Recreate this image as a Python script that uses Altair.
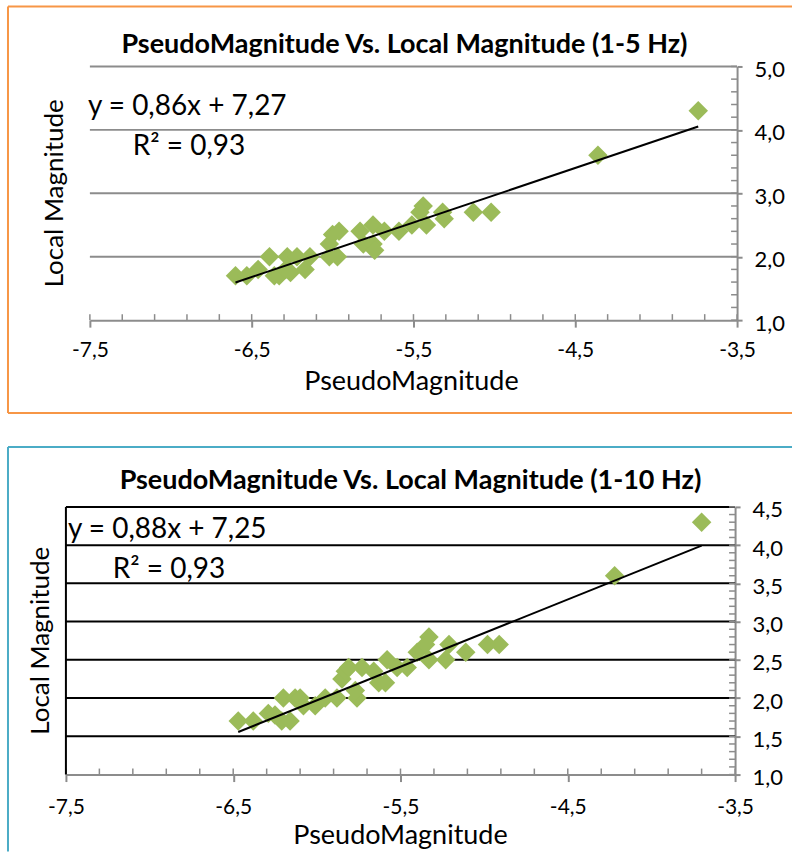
import altair as alt
import pandas as pd

FONT = "Lato"
GREEN = "#9BBB59"
AXIS_GRAY = "#8C8C8C"

# ---------------- data: 1-5 Hz ----------------
top_pseudo = [-6.60, -6.53, -6.46, -6.39, -6.36, -6.33, -6.29, -6.28, -6.22, -6.26, -6.17, -6.14,
              -6.02, -5.97, -6.02, -6.00, -5.96, -5.83, -5.81, -5.75, -5.74, -5.75, -5.68, -5.59,
              -5.51, -5.44, -5.46, -5.42, -5.32, -5.31, -5.13, -5.02, -4.36, -3.74]
top_local = [1.7, 1.7, 1.8, 2.0, 1.7, 1.7, 1.8, 2.0, 2.0, 1.75, 1.8, 2.0,
             2.0, 2.0, 2.2, 2.35, 2.4, 2.4, 2.2, 2.2, 2.1, 2.5, 2.4, 2.4,
             2.5, 2.8, 2.7, 2.5, 2.7, 2.6, 2.7, 2.7, 3.6, 4.3]
top_slope, top_intercept = 0.86, 7.27
top_title = "PseudoMagnitude Vs. Local Magnitude (1-5 Hz)"
top_eq = "y = 0,86x + 7,27"
top_r2 = "R² = 0,93"

# ---------------- data: 1-10 Hz ----------------
bot_pseudo = [-6.47, -6.38, -6.29, -6.25, -6.20, -6.21, -6.16, -6.13, -6.10, -6.08, -6.01, -5.95,
              -5.88, -5.76, -5.77, -5.85, -5.83, -5.81, -5.73, -5.66, -5.63, -5.59, -5.58, -5.52,
              -5.46, -5.40, -5.33, -5.35, -5.33, -5.23, -5.21, -5.11, -4.98, -4.91, -4.22, -3.70]
bot_local = [1.7, 1.7, 1.8, 1.78, 2.0, 1.7, 1.7, 2.0, 2.0, 1.9, 1.9, 2.0,
             2.0, 2.0, 2.1, 2.25, 2.35, 2.4, 2.4, 2.35, 2.2, 2.2, 2.5, 2.4,
             2.4, 2.6, 2.8, 2.7, 2.5, 2.5, 2.7, 2.6, 2.7, 2.7, 3.6, 4.3]
bot_slope, bot_intercept = 0.88, 7.25
bot_title = "PseudoMagnitude Vs. Local Magnitude (1-10 Hz)"
bot_eq = "y = 0,88x + 7,25"
bot_r2 = "R² = 0,93"

x_title = "PseudoMagnitude"
y_title = "Local Magnitude"

x_major = [-7.5, -6.5, -5.5, -4.5, -3.5]
x_minor = [round(-7.5 + 0.2 * i, 2) for i in range(21)]
top_y_major = [1.0, 2.0, 3.0, 4.0, 5.0]
top_y_minor = [round(1.0 + 0.2 * i, 2) for i in range(21)]
top_grid = [2.0, 3.0, 4.0, 5.0]
bot_y_major = [1.0, 1.5, 2.0, 2.5, 3.0, 3.5, 4.0, 4.5]
bot_y_minor = [round(1.0 + 0.1 * i, 2) for i in range(36)]
bot_grid = [1.5, 2.0, 2.5, 3.0, 3.5, 4.0, 4.5]

LABEL_EXPR = "replace(replace(format(datum.value, '.1f'), '.', ','), '\u2212', '-')"


def text_layer(txt, x, y, size, bold=False, angle=0, align="left"):
    kw = dict(align=align, baseline="middle", font=FONT, fontSize=size,
              fontWeight="bold" if bold else "normal", color="black")
    if angle:
        kw["angle"] = angle
    return alt.Chart(pd.DataFrame({"t": [txt]})).mark_text(**kw).encode(
        text="t:N", x=alt.value(x), y=alt.value(y))


def panel(xs, ys, slope, intercept, title, eq, r2, W, H, x0, ydom, y_major, y_minor,
          grid_vals, grid_color, border_color, pos, left_edge, bottom_border):
    # x0: pixel position of the -7.5 end of the x range (plot area left edge)
    xscale = alt.Scale(domain=[-7.5, -3.5], range=[x0, W], nice=False, zero=False)
    yscale = alt.Scale(domain=ydom, nice=False, zero=False)
    xaxis = alt.Axis(values=x_major, labelExpr=LABEL_EXPR, labelFont=FONT, labelFontSize=21,
                     labelColor="black", labelPadding=pos["xlabpad"], tickSize=7,
                     tickColor=AXIS_GRAY, tickWidth=2, domainColor=AXIS_GRAY, domainWidth=2,
                     grid=False, title=None, labelFlush=False, labelOverlap=False)
    yaxis = alt.Axis(orient="right", values=y_major, labelExpr=LABEL_EXPR, labelFont=FONT,
                     labelFontSize=22, labelColor="black", labelPadding=12, labelOffset=3,
                     tickSize=5, tickColor=AXIS_GRAY, tickWidth=2, domainColor=AXIS_GRAY,
                     domainWidth=2, grid=False, title=None, labelAlign="left",
                     labelOverlap=False, labelFlush=False)

    def X(field):
        return alt.X(field, scale=xscale, axis=xaxis, title=None)

    def Y(field):
        return alt.Y(field, scale=yscale, axis=yaxis, title=None)

    pts_df = pd.DataFrame({"x": xs, "y": ys})
    grid = alt.Chart(pd.DataFrame({"y": grid_vals})).mark_rule(
        color=grid_color, strokeWidth=2).encode(
        y=Y("y:Q"), x=alt.value(x0), x2=alt.value(W))
    xt = alt.Chart(pd.DataFrame({"x": x_minor})).mark_rule(
        color=AXIS_GRAY, strokeWidth=1.5).encode(
        x=X("x:Q"), y=alt.value(H - 6), y2=alt.value(H))
    yt = alt.Chart(pd.DataFrame({"y": y_minor})).mark_rule(
        color=AXIS_GRAY, strokeWidth=1.5).encode(
        y=Y("y:Q"), x=alt.value(W - 6), x2=alt.value(W))
    pts = alt.Chart(pts_df).mark_point(
        shape="diamond", filled=True, size=380, color=GREEN, opacity=1).encode(
        x=X("x:Q"), y=Y("y:Q"))
    tdf = pd.DataFrame({"x": [min(xs), max(xs)]})
    tdf["y"] = slope * tdf["x"] + intercept
    trend = alt.Chart(tdf).mark_line(color="black", strokeWidth=2).encode(
        x=X("x:Q"), y=Y("y:Q"))

    one = pd.DataFrame({"a": [0]})
    L, T, R, B = pos["L"], pos["T"], pos["R"], pos["B"]
    layers = [grid, xt, yt]
    if left_edge:
        layers.append(alt.Chart(one).mark_rule(color="black", strokeWidth=2).encode(
            x=alt.value(x0), y=alt.value(0), y2=alt.value(H)))
    layers += [pts, trend,
               text_layer(title, pos["title"][0], pos["title"][1], 27, bold=True, align="center"),
               text_layer(eq, pos["eq"][0], pos["eq"][1], 28),
               text_layer(r2, pos["r2"][0], pos["r2"][1], 28),
               text_layer(y_title, pos["yt"][0], pos["yt"][1], 26, angle=270, align="center"),
               text_layer(x_title, pos["xt"][0], pos["xt"][1], 27, align="center")]
    bline = alt.Chart(one).mark_rule(color=border_color, strokeWidth=2)
    layers.append(bline.encode(x=alt.value(L), x2=alt.value(R), y=alt.value(T)))
    layers.append(bline.encode(x=alt.value(L), y=alt.value(T), y2=alt.value(B)))
    if bottom_border:
        layers.append(bline.encode(x=alt.value(L), x2=alt.value(R), y=alt.value(B)))
    return alt.layer(*layers).properties(width=W, height=H)


# top panel: plot area from page x=90 to 738, y=66 to 320
top = panel(top_pseudo, top_local, top_slope, top_intercept, top_title, top_eq, top_r2,
            648, 254, 0, [1.0, 5.0], top_y_major, top_y_minor, top_grid, AXIS_GRAY, "#F79646",
            dict(L=-82, T=-60, R=703, B=347, title=(315, -21), eq=(-2, 41), r2=(43, 81),
                 yt=(-35, 127), xt=(322, 316), xlabpad=12),
            left_edge=False, bottom_border=True)

# bottom panel: group origin aligned with top (page x=90); plot area from page x=66 to 736
bot = panel(bot_pseudo, bot_local, bot_slope, bot_intercept, bot_title, bot_eq, bot_r2,
            646, 268, -24, [1.0, 4.5], bot_y_major, bot_y_minor, bot_grid, "black", "#4BACC6",
            dict(L=-82, T=-60, R=703, B=345, title=(321, -26), eq=(-22, 23), r2=(23, 63),
                 yt=(-49, 134), xt=(311, 330), xlabpad=15),
            left_edge=True, bottom_border=False)

chart = alt.vconcat(top, bot, spacing=32).properties(
    padding={"left": 7, "top": 5, "right": 0, "bottom": 0}
).configure_view(stroke=None)

chart.save("out.html", embed_options={"renderer": "svg", "actions": False})
